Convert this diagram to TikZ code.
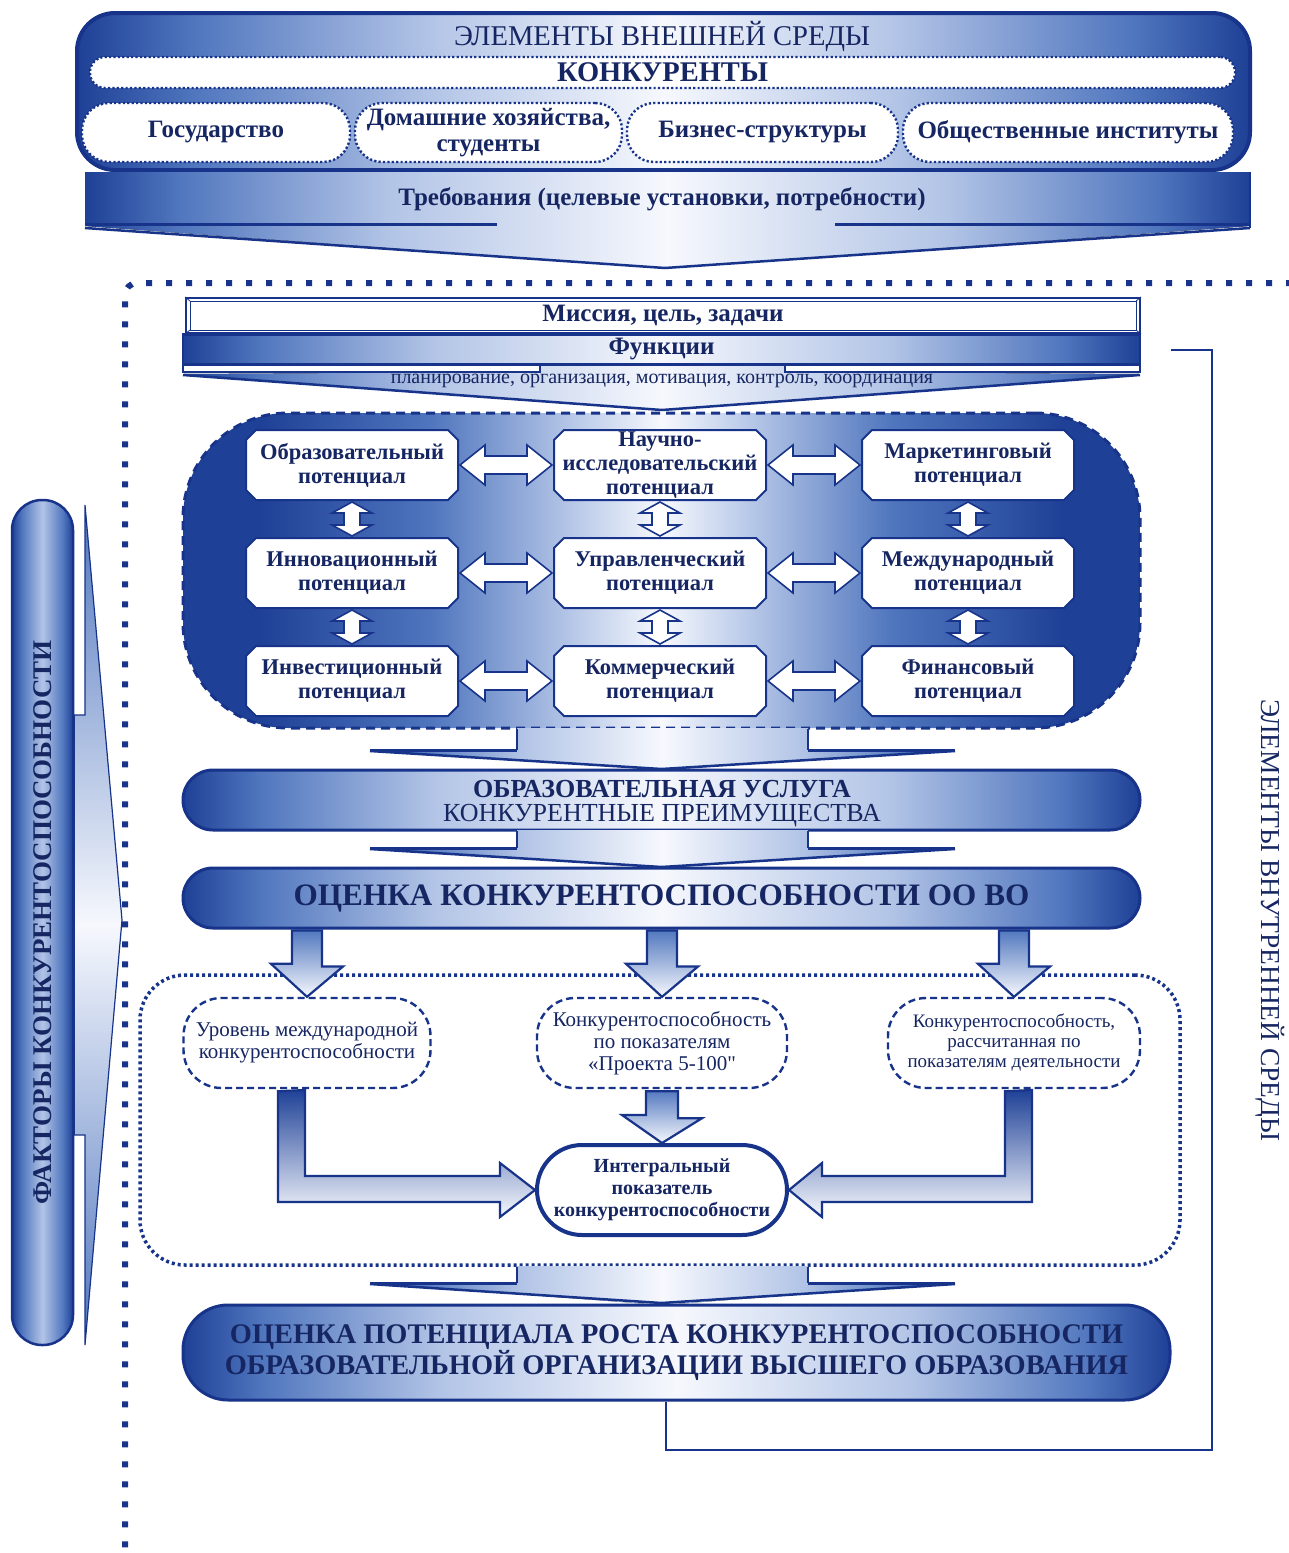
\documentclass[tikz,border=0pt]{standalone}
\usepackage{fontspec}
\setmainfont{Liberation Serif}
\usetikzlibrary{calc}
\definecolor{db}{RGB}{24,52,138}
\definecolor{tx}{RGB}{22,38,98}
\definecolor{c1}{RGB}{30,64,150}
\definecolor{c2}{RGB}{80,118,190}
\definecolor{c3}{RGB}{178,196,230}
\definecolor{c4}{RGB}{246,248,253}
\pgfdeclarehorizontalshading{hsh}{100bp}{color(0bp)=(c1); color(25bp)=(c1); color(29bp)=(c2); color(38bp)=(c3); color(50bp)=(c4); color(62bp)=(c3); color(71bp)=(c2); color(75bp)=(c1); color(100bp)=(c1)}
\pgfdeclarehorizontalshading{tsh}{100bp}{color(0bp)=(c1); color(25bp)=(c1); color(30bp)=(c2); color(40bp)=(c3); color(50bp)=(c4); color(60bp)=(c3); color(70bp)=(c2); color(75bp)=(c1); color(100bp)=(c1)}
\pgfdeclarehorizontalshading{bsh}{100bp}{color(0bp)=(c1); color(25bp)=(c1); color(29bp)=(c1); color(38bp)=(c2); color(45bp)=(c3); color(50bp)=(c4); color(55bp)=(c3); color(62bp)=(c2); color(71bp)=(c1); color(75bp)=(c1); color(100bp)=(c1)}
\pgfdeclarehorizontalshading{fsh}{100bp}{color(0bp)=(c1); color(25bp)=(c1); color(33bp)=(c2); color(50bp)=(c3); color(67bp)=(c2); color(75bp)=(c1); color(100bp)=(c1)}
\tikzset{
  every node/.style={text=tx, inner sep=0pt, align=center},
  bar/.style={draw=db, line width=3, shade, shading=hsh},
  wdot/.style={draw=db, fill=white, line width=2.4, dash pattern=on 2.2pt off 2.2pt},
  wdash/.style={draw=db, fill=white, line width=2.4, dash pattern=on 7pt off 4pt},
  dbl/.style={draw=db, fill=white, line width=1.6, line join=miter},
  barrow/.style={draw=db, line width=2.2, line join=miter, top color=c2, bottom color=c4},
  funnel/.style={shade, shading=hsh},
  fedge/.style={draw=db, line width=2.5, line join=miter},
  conn/.style={draw=db, line width=2},
  pt/.style={font=\fontsize{22.5}{24}\selectfont\bfseries, minimum width=212, minimum height=70},
  fb25/.style={font=\fontsize{25}{26}\selectfont\bfseries},
  fb28/.style={font=\fontsize{28.5}{30}\selectfont\bfseries},
  fb28b/.style={font=\fontsize{28.4}{29}\selectfont\bfseries},
  fb27/.style={font=\fontsize{27}{29}\selectfont\bfseries},
  fb31/.style={font=\fontsize{31.2}{33}\selectfont\bfseries},
  f28/.style={font=\fontsize{28.6}{30}\selectfont},
  f27/.style={font=\fontsize{27.4}{29}\selectfont},
  f26/.style={font=\fontsize{26}{28}\selectfont},
  f20/.style={font=\fontsize{20}{22}\selectfont},
  f21/.style={font=\fontsize{21}{22}\selectfont},
  f19/.style={font=\fontsize{19}{20}\selectfont},
  fb20/.style={font=\fontsize{20}{22}\selectfont\bfseries},
  pbox/.pic={\draw[draw=db, line width=2, fill=white] (-96,-35) -- (96,-35) -- (106,-25) -- (106,25) -- (96,35) -- (-96,35) -- (-106,25) -- (-106,-25) -- cycle;},
  hd/.pic={\draw[dbl] (-46,0) -- (-21,-20) -- (-21,-9) -- (21,-9) -- (21,-20) -- (46,0) -- (21,20) -- (21,9) -- (-21,9) -- (-21,20) -- cycle;},
  vd/.pic={\draw[dbl] (0,-17) -- (20,-6) -- (8,-6) -- (8,6) -- (20,6) -- (0,17) -- (-20,6) -- (-8,6) -- (-8,-6) -- (-20,-6) -- cycle;}
}
\begin{document}
\begin{tikzpicture}[x=1pt,y=-1pt]
\useasboundingbox (0,0) rectangle (1288,1553);
\fill[white] (0,0) rectangle (1288,1553);

% ---------- external environment ----------
\node[draw=db, line width=4, rounded corners=38, minimum width=1173, minimum height=157, shade, shading=tsh] (ext) at (663.5,91.5) {};
\node[f28] (extt) at (662,36) {ЭЛЕМЕНТЫ ВНЕШНЕЙ СРЕДЫ};
\node[wdot, rounded corners=15, minimum width=1145, minimum height=31, fb28] (konk) at (662.5,72.5) {КОНКУРЕНТЫ};
\node[wdot, rounded corners=27, minimum width=268, minimum height=59, fb25] (e1) at (216,132.5) {Государство};
\node[wdot, rounded corners=27, minimum width=267, minimum height=59, fb25] (e2) at (488.5,132.5) {Домашние хозяйства,\\студенты};
\node[wdot, rounded corners=27, minimum width=271, minimum height=59, fb25] (e3) at (762.5,132.5) {Бизнес-структуры};
\node[wdot, rounded corners=27, minimum width=330, minimum height=59, fb25] (e4) at (1068,132.5) {Общественные институты};

% ---------- requirements arrow ----------
\fill[funnel] (85,172) -- (1250,172) -- (1250,226) -- (665,268) -- (85,226) -- cycle;
\draw[db, line width=3] (85,224) -- (497,224) (835,224) -- (1250,224);
\draw[fedge] (85,228) -- (665,268) -- (1250,228);
\draw[db, line width=2] (1250,172) -- (1250,228);
\node[fb25] (treb) at (662,199) {Требования (целевые установки, потребности)};

% ---------- internal environment frame ----------
\draw[db, line width=6, dash pattern=on 6pt off 14pt, rounded corners=12] (1292,283) -- (125,283) -- (125,1553);

% ---------- factors bar ----------
\node[draw=db, line width=2.5, rounded corners=30, minimum width=61, minimum height=845, shade, shading=fsh] (fak) at (42.5,922.5) {};
\node[rotate=90, fb27] (fakt) at (fak.center) {ФАКТОРЫ КОНКУРЕНТОСПОСОБНОСТИ};
\draw[db, line width=1.2, top color=c2, bottom color=c2, middle color=c4] (fak.east |- 0,715) -- (85,715) -- (85,505) -- (122,920) -- (85,1345) -- (85,1135) -- (fak.east |- 0,1135) -- cycle;

% ---------- mission / functions ----------
\node[draw=db, line width=2, fill=white, minimum width=954, minimum height=35, fb25] (miss) at (663,315.5) {Миссия, цель, задачи};
\draw[db, line width=0.8] ([shift={(5,4)}]miss.north west) rectangle ([shift={(-5,-4)}]miss.south east);
\draw[db, line width=0.8] (miss.north west) -- ++(5,4) (miss.north east) -- ++(-5,4) (miss.south west) -- ++(5,-4) (miss.south east) -- ++(-5,-4);
\fill[funnel] (540,364) -- (785,364) -- (785,372) -- (1140,374) -- (662,410) -- (183,374) -- (540,372) -- cycle;
\draw[db, line width=2, fill=white] (183,365) rectangle (540,372) (785,365) rectangle (1140,372);
\draw[fedge] (183,375) -- (662,410) -- (1140,375);
\node[bar, line width=2.5, minimum width=957, minimum height=30, fb25] (func) at (661.5,349.5) {Функции};
\node[f20] (plan) at (662,381) {планирование, организация, мотивация, контроль, координация};

% ---------- potentials block ----------
\node[draw=db, line width=3, dash pattern=on 9pt off 6pt, rounded corners=105, minimum width=957, minimum height=315, shade, shading=bsh] (blk) at (661.5,570.5) {};
\pic at (352,465) {pbox}; \node[pt] (p11) at (352,465) {Образовательный\\потенциал};
\pic at (660,465) {pbox}; \node[pt] (p12) at (660,465) {Научно-\\исследовательский\\потенциал};
\pic at (968,465) {pbox}; \node[pt] (p13) at (968,465) {Маркетинговый\\потенциал};
\pic at (352,573) {pbox}; \node[pt] (p21) at (352,573) {Инновационный\\потенциал};
\pic at (660,573) {pbox}; \node[pt] (p22) at (660,573) {Управленческий\\потенциал};
\pic at (968,573) {pbox}; \node[pt] (p23) at (968,573) {Международный\\потенциал};
\pic at (352,681) {pbox}; \node[pt] (p31) at (352,681) {Инвестиционный\\потенциал};
\pic at (660,681) {pbox}; \node[pt] (p32) at (660,681) {Коммерческий\\потенциал};
\pic at (968,681) {pbox}; \node[pt] (p33) at (968,681) {Финансовый\\потенциал};
\foreach \a/\b in {p11/p12,p12/p13,p21/p22,p22/p23,p31/p32,p32/p33}
  \pic at ($(\a.east)!0.5!(\b.west)$) {hd};
\foreach \a/\b in {p11/p21,p21/p31,p12/p22,p22/p32,p13/p23,p23/p33}
  \pic at ($(\a.south)!0.5!(\b.north)$) {vd};

% ---------- service / assessment ----------
\fill[funnel] (517,728) -- (808,728) -- (808,750) -- (955,750) -- (661.5,770) -- (370,750) -- (517,750) -- cycle;
\draw[db, line width=1.2] (517,729) -- (517,750) (808,729) -- (808,750);
\draw[db, line width=3] (370,750) -- (517,750) (808,750) -- (955,750);
\draw[fedge] (370,751) -- (661.5,769) -- (955,751);
\node[bar, rounded corners=30, minimum width=957, minimum height=60] (usl) at (661.5,800) {};
\node[font=\fontsize{26}{28}\selectfont\bfseries] (uslt) at (662,789) {ОБРАЗОВАТЕЛЬНАЯ УСЛУГА};
\node[f26] (uslk) at (662,816) {КОНКУРЕНТНЫЕ ПРЕИМУЩЕСТВА};

\fill[funnel] (517,830) -- (808,830) -- (808,848) -- (955,848) -- (661.5,868) -- (370,848) -- (517,848) -- cycle;
\draw[db, line width=1.2] (517,831) -- (517,848) (808,831) -- (808,848);
\draw[db, line width=3] (370,848) -- (517,848) (808,848) -- (955,848);
\draw[fedge] (370,849) -- (661.5,867) -- (955,849);
\node[bar, rounded corners=30, minimum width=957, minimum height=60, fb31] (ocn) at (661.5,898) {ОЦЕНКА КОНКУРЕНТОСПОСОБНОСТИ ОО ВО};

% ---------- indicators ----------
\node[draw=db, line width=3.5, dash pattern=on 3pt off 3pt, rounded corners=45, minimum width=1040, minimum height=290] (cont) at (660,1120) {};
\node[wdash, rounded corners=38, minimum width=247, minimum height=90, f21] (u1) at (307,1043) {Уровень международной\\конкурентоспособности};
\node[wdash, rounded corners=38, minimum width=250, minimum height=90, f21] (u2) at (662,1043) {Конкурентоспособность\\по показателям\\«Проекта 5-100{\addfontfeature{Ligatures=TeXOff}"}};
\node[wdash, rounded corners=38, minimum width=252, minimum height=90, f19] (u3) at (1014,1043) {Конкурентоспособность,\\рассчитанная по\\показателям деятельности};
\node[draw=db, line width=4, fill=white, rounded corners=45, minimum width=250, minimum height=90, fb20] (int) at (662,1190) {Интегральный\\показатель\\конкурентоспособности};

\foreach \u in {u1,u2,u3}
  \draw[barrow] (ocn.south -| \u.north) ++(-15,1) -- ++(30,0) -- ++(0,36) -- ++(21,0) -- (\u.north) -- ++(-36,-33) -- ++(21,0) -- cycle;
\draw[barrow] (u2.south) ++(-16,2) -- ++(32,0) -- ++(0,27) -- ++(24,0) -- (int.north) -- ++(-40,-28) -- ++(24,0) -- cycle;
\draw[barrow, top color=c1] (u1.south) ++(-29,2) -- (305,1090) -- (305,1176) -- (500,1176) -- (500,1163) -- (int.west) -- (500,1217) -- (500,1202) -- (278,1202) -- cycle;
\draw[barrow, top color=c1] (u3.south) ++(-9,2) -- (1032,1090) -- (1032,1202) -- (822,1202) -- (822,1217) -- (int.east) -- (822,1163) -- (822,1176) -- (1005,1176) -- cycle;

% ---------- growth potential ----------
\fill[funnel] (517,1266) -- (808,1266) -- (808,1283) -- (955,1283) -- (661.5,1305) -- (370,1283) -- (517,1283) -- cycle;
\draw[db, line width=1.2] (517,1267) -- (517,1283) (808,1267) -- (808,1283);
\draw[db, line width=3] (370,1283) -- (517,1283) (808,1283) -- (955,1283);
\draw[fedge] (370,1284) -- (661.5,1303) -- (955,1284);
\node[bar, rounded corners=45, minimum width=987, minimum height=95, fb28b] (bot) at (676.5,1352.5) {ОЦЕНКА ПОТЕНЦИАЛА РОСТА КОНКУРЕНТОСПОСОБНОСТИ\\ОБРАЗОВАТЕЛЬНОЙ ОРГАНИЗАЦИИ ВЫСШЕГО ОБРАЗОВАНИЯ};

% feedback connector
\coordinate (rc) at (1212,1450);
\draw[conn] ([xshift=-11pt]bot.south) |- (rc) |- ([xshift=30pt]func.east);

% internal environment label
\node[rotate=-90, f27] (inner) at (1270,920) {ЭЛЕМЕНТЫ ВНУТРЕННЕЙ СРЕДЫ};
\end{tikzpicture}
\end{document}
